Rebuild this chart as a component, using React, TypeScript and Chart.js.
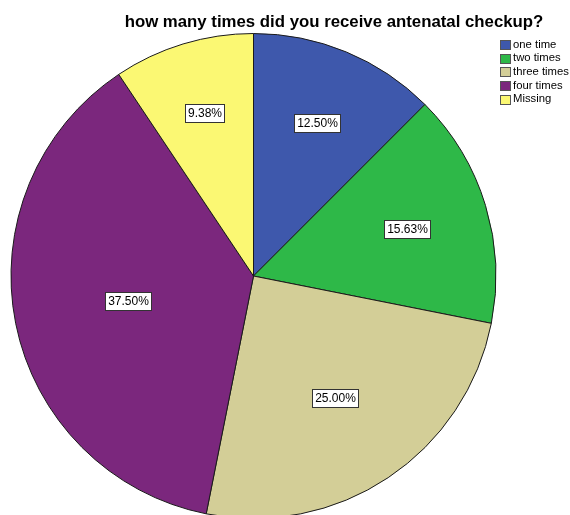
import React, { useEffect, useRef } from "react";
import { Chart, registerables } from "chart.js";

Chart.register(...registerables);

const TITLE = "how many times did you receive antenatal checkup?";
const categories = ["one time", "two times", "three times", "four times", "Missing"];
const percentages = [12.5, 15.63, 25.0, 37.5, 9.38];
const colors = ["#3E58AC", "#2EB848", "#D3CE97", "#7B277D", "#FBF873"];

const FONT = "'Liberation Sans', Arial, sans-serif";

const overlayPlugin = {
  id: "overlay",
  afterDatasetsDraw(chart: any) {
    const ctx = chart.ctx as CanvasRenderingContext2D;
    const meta = chart.getDatasetMeta(0);
    ctx.save();
    // slice labels
    ctx.font = `12px ${FONT}`;
    ctx.textAlign = "center";
    ctx.textBaseline = "middle";
    meta.data.forEach((arc: any, i: number) => {
      const { x, y, startAngle, endAngle, outerRadius } = arc.getProps(
        ["x", "y", "startAngle", "endAngle", "outerRadius"],
        true
      );
      const mid = (startAngle + endAngle) / 2;
      const pct = percentages[i];
      const frac = 0.76 - 0.0062 * pct;
      const r = outerRadius * frac;
      const px = x + Math.cos(mid) * r;
      const py = y + Math.sin(mid) * r;
      const txt = pct.toFixed(2) + "%";
      const w = Math.round(ctx.measureText(txt).width + 5);
      const h = 18;
      const bx = Math.round(px - w / 2) + 0.5;
      const by = Math.round(py - h / 2) + 0.5;
      ctx.fillStyle = "#ffffff";
      ctx.fillRect(bx, by, w, h);
      ctx.strokeStyle = "#333333";
      ctx.lineWidth = 1;
      ctx.strokeRect(bx, by, w, h);
      ctx.fillStyle = "#000000";
      ctx.fillText(txt, bx + w / 2, by + h / 2 + 0.5);
    });

    // title
    ctx.font = `bold 16.8px ${FONT}`;
    ctx.textAlign = "center";
    ctx.textBaseline = "alphabetic";
    ctx.fillStyle = "#000000";
    ctx.fillText(TITLE, 334, 27);

    // legend
    ctx.font = `11.3px ${FONT}`;
    ctx.textAlign = "left";
    ctx.textBaseline = "middle";
    categories.forEach((c, i) => {
      const yy = 44 + i * 13.7;
      ctx.fillStyle = colors[i];
      ctx.fillRect(500.5, Math.round(yy - 4) + 0.5, 10, 9);
      ctx.strokeStyle = "#555555";
      ctx.lineWidth = 1;
      ctx.strokeRect(500.5, Math.round(yy - 4) + 0.5, 10, 9);
      ctx.fillStyle = "#000000";
      ctx.fillText(c, 513, yy + 0.5);
    });
    ctx.restore();
  },
};

export default function App() {
  const ref = useRef<HTMLCanvasElement | null>(null);
  useEffect(() => {
    if (!ref.current) return;
    const chart = new Chart(ref.current, {
      type: "pie",
      data: {
        labels: categories,
        datasets: [
          {
            data: percentages,
            backgroundColor: colors,
            borderColor: "#1a1a1a",
            borderWidth: 1,
          },
        ],
      },
      options: {
        responsive: false,
        animation: false,
        devicePixelRatio: 1,
        layout: { padding: { left: 10, right: 73, top: 33, bottom: 11 } },
        plugins: {
          legend: { display: false },
          title: { display: false },
          tooltip: { enabled: false },
        },
      },
      plugins: [overlayPlugin],
    });
    return () => chart.destroy();
  }, []);
  return (
    <div
      style={{
        position: "fixed",
        top: 0,
        left: 0,
        width: 570,
        height: 515,
        overflow: "hidden",
        background: "#ffffff",
      }}
    >
      <canvas ref={ref} width={570} height={530} style={{ display: "block" }} />
    </div>
  );
}
